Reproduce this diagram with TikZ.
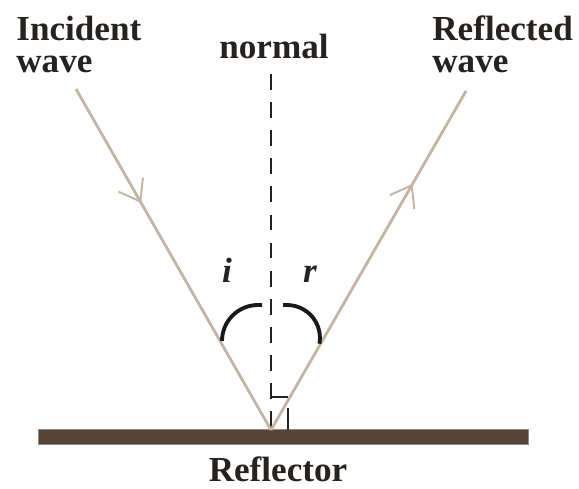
\documentclass[tikz,border=0pt]{standalone}
\usepackage{fontspec}
\setmainfont{Liberation Serif}
\usepackage{tikz}
\usetikzlibrary{arrows.meta, decorations.markings}
\definecolor{ray}{RGB}{198,180,162}
\definecolor{mirror}{RGB}{87,68,52}
\definecolor{ink}{RGB}{40,34,30}

\begin{document}
\begin{tikzpicture}[
  x=0.02cm, y=-0.02cm,
  label/.style={inner sep=0pt, align=left, font=\bfseries\fontsize{20}{18}\selectfont, text=ink},
  angletext/.style={inner sep=0pt, font=\bfseries\itshape\fontsize{20}{20}\selectfont, text=ink},
  beam/.style={draw=ray, line width=1.6pt},
  tipmark/.style={postaction={decorate, decoration={markings,
      mark=at position #1 with {\arrow{Straight Barb[length=11pt, width=16pt, line width=1.1pt]}}}}},
  normalline/.style={draw=ink, line width=1.4pt, dash pattern=on 9pt off 7pt},
  anglearc/.style={draw=black!90, line width=2.2pt}
]
\useasboundingbox (0,0) rectangle (579,488);

% points of the rays
\coordinate (O) at (271,430);
\coordinate (A) at (76,89);
\coordinate (B) at (466,91);
\coordinate (N) at (271,74);

% reflector surface
\fill[mirror, draw=black!45, line width=0.3pt] (38,429) rectangle (528,444);

% normal and right angle
\draw[normalline] (N) -- (O);
\draw[ink, line width=1.2pt] (271,397) -- (288,397) (288,408) -- (288,430);

% incident and reflected rays
\draw[beam, tipmark=0.334] (A) -- (O);
\draw[beam, tipmark=0.726] (O) -- (B);

% angles
\draw[anglearc] (262,305) -- (258,305) arc[start angle=270, end angle=180, radius=36];
\draw[anglearc] (283,305) -- (287,305) arc[start angle=270, end angle=370, radius=33];
\node[angletext, anchor=base] (iang) at (227,282) {i};
\node[angletext, anchor=base] (rang) at (310,282) {r};

% labels
\node[label, anchor=base west] (inc) at (16,72) {Incident\\wave};
\node[label, anchor=base] (norm) at (274,58) {normal};
\node[label, anchor=base west] (refl) at (432,72) {Reflected\\wave};
\node[label, anchor=base] (reflector) at (278,481) {Reflector};
\end{tikzpicture}
\end{document}
